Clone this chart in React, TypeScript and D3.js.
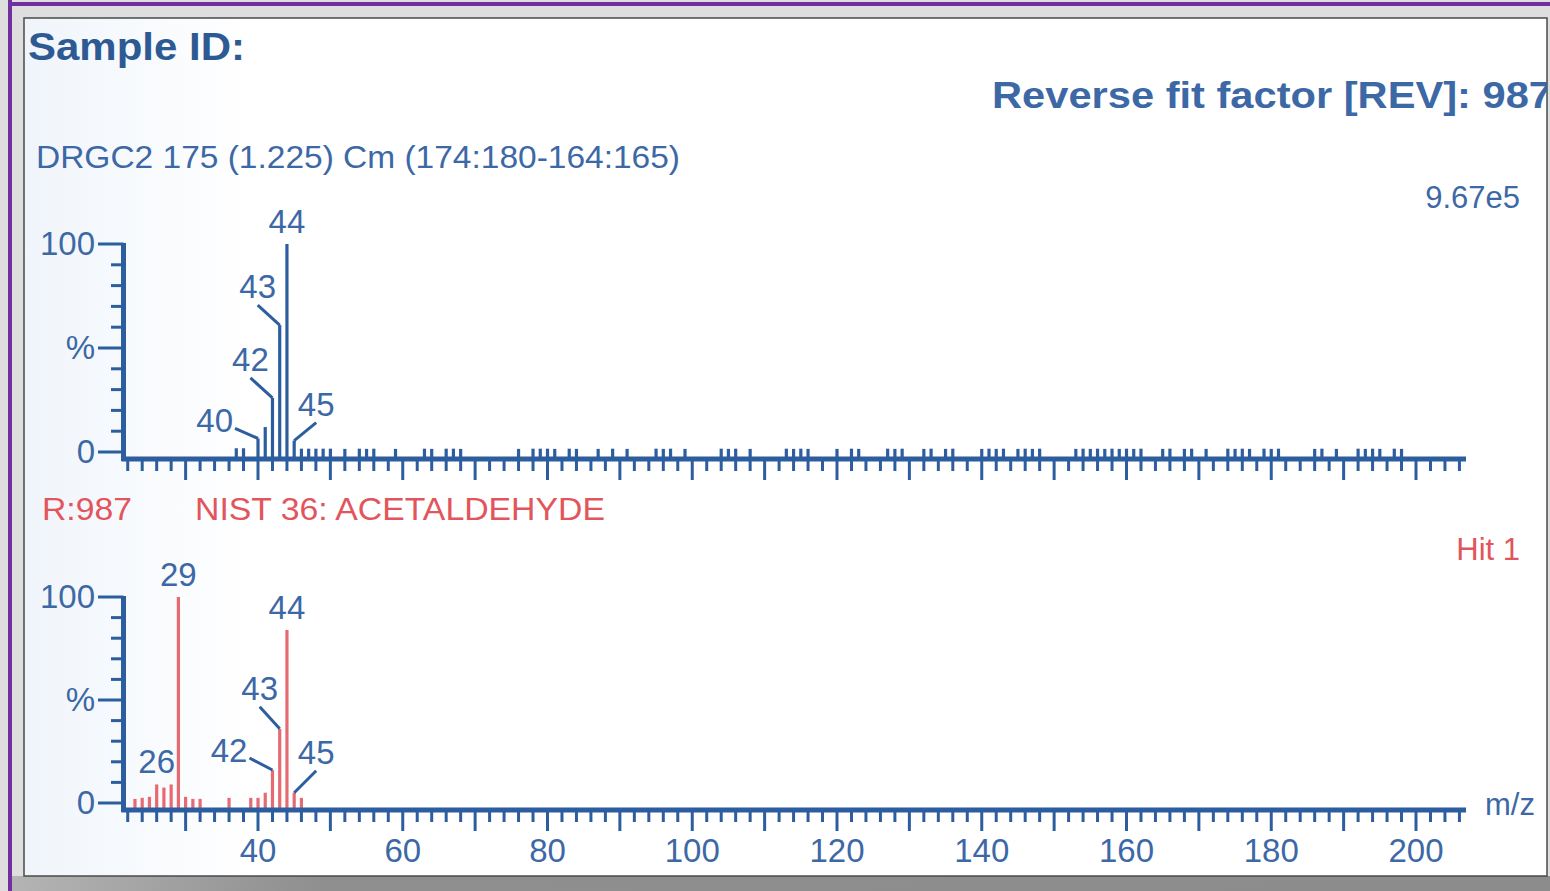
import { scaleLinear } from "d3";

const WIDTH = 1550;
const HEIGHT = 891;

// top spectrum (sample), % of base peak
const sampleMz = [37, 38, 40, 41, 42, 43, 44, 45];
const samplePct = [1.8, 1.8, 6.5, 12, 26, 61, 100, 5.5];
const sampleNoiseMz = [
  46, 47, 48, 49, 50, 52, 54, 55, 56, 59, 63, 64, 66, 67, 68, 76, 78, 79, 80, 81, 83, 84, 87, 89, 91, 95, 96, 97, 99,
  104, 105, 106, 108, 113, 114, 115, 116, 120, 122, 123, 127, 128, 129, 132, 133, 135, 136, 140, 141, 142, 143, 145,
  146, 147, 148, 153, 154, 155, 156, 157, 158, 159, 160, 161, 162, 165, 166, 168, 169, 171, 174, 175, 176, 177, 179,
  180, 181, 186, 187, 189, 192, 193, 194, 195, 197, 198,
];
const sampleNoisePct = [
  1.6, 1.6, 1.6, 1.6, 1.6, 1.5, 1.6, 1.5, 1.6, 1.5, 1.6, 1.5, 1.6, 1.6, 1.5, 1.5, 1.6, 1.6, 1.6, 1.5, 1.6, 1.5, 1.5,
  1.6, 1.5, 1.6, 1.5, 1.6, 1.5, 1.6, 1.5, 1.6, 1.5, 1.6, 1.5, 1.6, 1.5, 1.5, 1.6, 1.5, 1.6, 1.5, 1.6, 1.5, 1.6, 1.5,
  1.6, 1.5, 1.6, 1.5, 1.6, 1.5, 1.6, 1.5, 1.6, 1.5, 1.6, 1.5, 1.6, 1.5, 1.6, 1.5, 1.6, 1.5, 1.6, 1.5, 1.6, 1.5, 1.6,
  1.5, 1.6, 1.5, 1.6, 1.5, 1.6, 1.5, 1.6, 1.5, 1.6, 1.5, 1.6, 1.5, 1.6, 1.5, 1.6, 1.5,
];

// bottom spectrum (library hit)
const libraryMz = [23, 24, 25, 26, 27, 28, 29, 30, 31, 32, 36, 39, 40, 41, 42, 43, 44, 45, 46];
const libraryPct = [2, 2.5, 3, 9, 7.5, 9, 100, 3, 2, 2, 2.5, 2.5, 2.5, 5, 16, 36, 84, 5, 2.5];

const sampleLabels = [
  { mz: 44, text: "44", leader: null },
  { mz: 43, text: "43", leader: [-22, -20] },
  { mz: 42, text: "42", leader: [-22, -20] },
  { mz: 40, text: "40", leader: [-23, -10] },
  { mz: 45, text: "45", leader: [22, -18] },
];
const libraryLabels = [
  { mz: 29, text: "29", leader: null },
  { mz: 44, text: "44", leader: null },
  { mz: 43, text: "43", leader: [-20, -22] },
  { mz: 42, text: "42", leader: [-23, -12] },
  { mz: 45, text: "45", leader: [22, -22] },
  { mz: 26, text: "26", leader: null },
];

const xTickLabels = [40, 60, 80, 100, 120, 140, 160, 180, 200];
const yTicks = [0, 10, 20, 30, 40, 50, 60, 70, 80, 90, 100];
const yTickLabels = [
  { v: 100, text: "100" },
  { v: 50, text: "%" },
  { v: 0, text: "0" },
];

const BLUE = "#2c5d9e";
const TEXT_BLUE = "#3d68a6";
const RED_BAR = "#e66a72";
const RED_TEXT = "#e2555c";
const FONT = "'Liberation Sans', Arial, sans-serif";
const LABEL_SIZE = 33;

const xScale = scaleLinear().domain([40, 200]).range([258, 1416]);
const minorTicks = Array.from({ length: 93 }, (_, i) => 22 + i * 2);

function Spectrum({ y0, y100, axisY, mz, pct, noiseMz, noisePct, color, labels }) {
  const yScale = scaleLinear().domain([0, 100]).range([y0, y100]);
  const axisX = 123.5;
  const labelFor = (l) => {
    const i = mz.indexOf(l.mz);
    const bx = xScale(l.mz);
    const by = yScale(pct[i]);
    if (!l.leader) {
      return (
        <text key={l.text} x={bx} y={by - 11} textAnchor="middle" fontSize={LABEL_SIZE} fill={TEXT_BLUE}>
          {l.text}
        </text>
      );
    }
    const [dx, dy] = l.leader;
    const ex = bx + dx;
    const ey = by + dy;
    const left = dx < 0 && Math.abs(dy) < 15;
    return (
      <g key={l.text}>
        <line x1={bx} y1={by} x2={ex} y2={ey} stroke={BLUE} strokeWidth={3} />
        <text
          x={left ? ex - 2 : ex}
          y={left ? ey + 4 : ey - 7}
          textAnchor={left ? "end" : "middle"}
          fontSize={LABEL_SIZE}
          fill={TEXT_BLUE}
        >
          {l.text}
        </text>
      </g>
    );
  };
  return (
    <g fontFamily={FONT}>
      {noiseMz.map((m, i) => (
        <line key={`n${m}`} x1={xScale(m)} x2={xScale(m)} y1={axisY} y2={yScale(noisePct[i])} stroke={color} strokeWidth={3.2} />
      ))}
      {mz.map((m, i) => (
        <line key={`p${m}`} x1={xScale(m)} x2={xScale(m)} y1={axisY} y2={yScale(pct[i])} stroke={color} strokeWidth={3.2} />
      ))}
      {/* y axis */}
      <line x1={axisX} x2={axisX} y1={y100 - 1} y2={axisY + 2} stroke={BLUE} strokeWidth={5} />
      {yTicks.map((v) => {
        const big = v === 0 || v === 50 || v === 100;
        return (
          <line key={v} x1={big ? 98 : 111} x2={axisX} y1={yScale(v)} y2={yScale(v)} stroke={BLUE} strokeWidth={3} />
        );
      })}
      {yTickLabels.map((t) => (
        <text key={t.text} x={95} y={yScale(t.v) + 11} textAnchor="end" fontSize={LABEL_SIZE} fill={TEXT_BLUE}>
          {t.text}
        </text>
      ))}
      {/* x axis */}
      <line x1={axisX - 2} x2={1466} y1={axisY} y2={axisY} stroke={BLUE} strokeWidth={5} />
      {minorTicks.map((m) => (
        <line
          key={m}
          x1={xScale(m)}
          x2={xScale(m)}
          y1={axisY}
          y2={axisY + (m % 10 === 0 ? 21 : 12)}
          stroke={BLUE}
          strokeWidth={3}
        />
      ))}
      {labels.map(labelFor)}
    </g>
  );
}

export default function App() {
  return (
    <svg
      width={WIDTH}
      height={HEIGHT}
      viewBox={`0 0 ${WIDTH} ${HEIGHT}`}
      style={{ position: "absolute", left: 0, top: 0, display: "block" }}
      fontFamily={FONT}
    >
      <defs>
        <linearGradient id="panelBg" x1="0" x2="1" y1="0" y2="0">
          <stop offset="0" stopColor="#f0f5fb" />
          <stop offset="0.15" stopColor="#ffffff" />
          <stop offset="1" stopColor="#ffffff" />
        </linearGradient>
        <linearGradient id="shadow" x1="0" x2="1" y1="0" y2="0">
          <stop offset="0" stopColor="#b4b4b4" />
          <stop offset="0.2" stopColor="#8f8f8f" />
          <stop offset="1" stopColor="#8c8c8c" />
        </linearGradient>
        <clipPath id="panelClip">
          <rect x={24} y={18} width={1523} height={858} />
        </clipPath>
      </defs>
      <rect x={0} y={0} width={WIDTH} height={HEIGHT} fill="#dedede" />
      <rect x={11} y={876} width={WIDTH - 11} height={HEIGHT - 876} fill="url(#shadow)" />
      <rect x={8} y={0} width={4} height={HEIGHT} fill="#7030a0" />
      <rect x={8} y={2} width={WIDTH - 8} height={4} fill="#7030a0" />
      <rect x={24} y={18} width={1523} height={858} fill="url(#panelBg)" stroke="#4a4a4a" strokeWidth={1.5} />

      <g clipPath="url(#panelClip)">
        <text x={28} y={60} fontSize={38} fontWeight="bold" fill="#2d5a93" textLength={217} lengthAdjust="spacingAndGlyphs">
          Sample ID:
        </text>
        <text x={992} y={108} fontSize={37} fontWeight="bold" fill="#3d68a6" textLength={560} lengthAdjust="spacingAndGlyphs">
          Reverse fit factor [REV]: 987
        </text>
        <text x={36} y={168} fontSize={32} fill={TEXT_BLUE} textLength={644} lengthAdjust="spacingAndGlyphs">
          DRGC2 175 (1.225) Cm (174:180-164:165)
        </text>
        <text x={1520} y={208} fontSize={31} textAnchor="end" fill={TEXT_BLUE}>
          9.67e5
        </text>

        <Spectrum
          y0={452}
          y100={244}
          axisY={459}
          mz={sampleMz}
          pct={samplePct}
          noiseMz={sampleNoiseMz}
          noisePct={sampleNoisePct}
          color={BLUE}
          labels={sampleLabels}
        />

        <text x={42} y={520} fontSize={31} fill={RED_TEXT} textLength={90} lengthAdjust="spacingAndGlyphs">
          R:987
        </text>
        <text x={195} y={520} fontSize={31} fill={RED_TEXT} textLength={410} lengthAdjust="spacingAndGlyphs">
          NIST 36: ACETALDEHYDE
        </text>
        <text x={1520} y={560} fontSize={31} textAnchor="end" fill={RED_TEXT}>
          Hit 1
        </text>

        <Spectrum
          y0={803}
          y100={597}
          axisY={810}
          mz={libraryMz}
          pct={libraryPct}
          noiseMz={[]}
          noisePct={[]}
          color={RED_BAR}
          labels={libraryLabels}
        />

        {xTickLabels.map((v) => (
          <text key={v} x={xScale(v)} y={862} textAnchor="middle" fontSize={LABEL_SIZE} fill={TEXT_BLUE}>
            {v}
          </text>
        ))}
        <text x={1485} y={815} fontSize={31} fill={TEXT_BLUE}>
          m/z
        </text>
      </g>
    </svg>
  );
}
